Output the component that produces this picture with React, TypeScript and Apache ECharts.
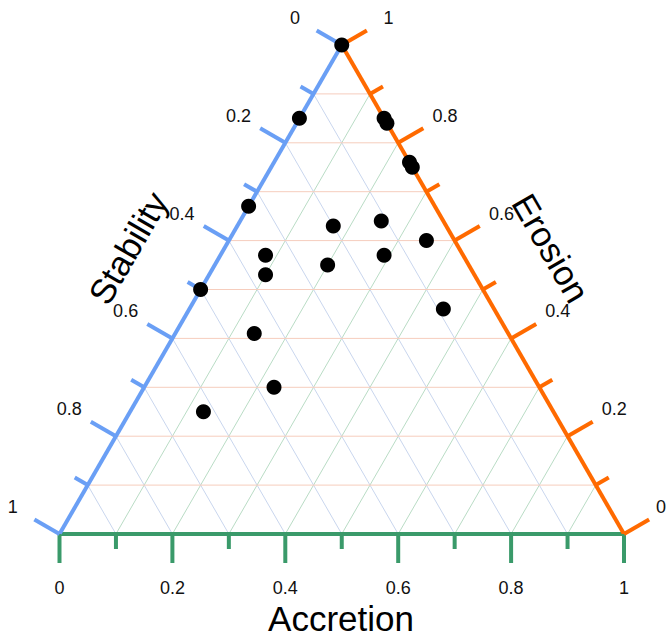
import React, { useEffect, useRef } from "react";
import * as echarts from "echarts";

const SQ = Math.sqrt(3) / 2;

// Data (each row sums to 1)
const accretion = [0, 0, 0.15, 0.16, 0.24, 0.25, 0, 0.17, 0.25, 0.35, 0.08, 0.29, 0.2, 0.1, 0, 0.45, 0.14, 0.23, 0.13];
const stability = [0, 0.15, 0, 0, 0, 0, 0.33, 0.2, 0.11, 0.05, 0.35, 0.14, 0.25, 0.37, 0.5, 0.09, 0.45, 0.47, 0.62];
const erosion = [1, 0.85, 0.85, 0.84, 0.76, 0.75, 0.67, 0.63, 0.64, 0.6, 0.57, 0.57, 0.55, 0.53, 0.5, 0.46, 0.41, 0.3, 0.25];

const tickValues = [0, 0.1, 0.2, 0.3, 0.4, 0.5, 0.6, 0.7, 0.8, 0.9, 1];
const majorTicks = [0, 0.2, 0.4, 0.6, 0.8, 1];
const majorLabels = ["0", "0.2", "0.4", "0.6", "0.8", "1"];

const FONT = '"Liberation Sans", Arial, Helvetica, sans-serif';

type AxisDef = {
  name: string;
  color: string;
  grid: string;
  edge: (t: number) => number[];
  gridEnd: (t: number) => number[];
  normal: number[];
};

const axes: AxisDef[] = [
  {
    name: "Accretion",
    color: "#3a9a6a",
    grid: "#b9dcc5",
    edge: (t) => [t, 0],
    gridEnd: (t) => [t + (1 - t) / 2, (1 - t) * SQ],
    normal: [0, 1],
  },
  {
    name: "Stability",
    color: "#6a9ff5",
    grid: "#c9d6ee",
    edge: (t) => [(1 - t) / 2, (1 - t) * SQ],
    gridEnd: (t) => [1 - t, 0],
    normal: [-SQ, -0.5],
  },
  {
    name: "Erosion",
    color: "#ff6a00",
    grid: "#f6cdbd",
    edge: (t) => [1 - t / 2, t * SQ],
    gridEnd: (t) => [t / 2, t * SQ],
    normal: [SQ, -0.5],
  },
];

function toXY(a: number, s: number, e: number) {
  const sum = a + s + e;
  const an = a / sum;
  const en = e / sum;
  return [an + en / 2, en * SQ];
}

function isMajor(t: number) {
  return majorTicks.some((m) => Math.abs(m - t) < 1e-6);
}

export default function App() {
  const ref = useRef<HTMLDivElement>(null);

  useEffect(() => {
    if (!ref.current) return;
    const chart = echarts.init(ref.current, undefined, { renderer: "svg" });

    const gridSeries = axes.map((ax) => ({
      type: "custom",
      coordinateSystem: "cartesian2d",
      clip: false,
      silent: true,
      z: 1,
      data: tickValues.filter((t) => t > 0 && t < 1).map((t) => [t, 0]),
      renderItem: (params: any, api: any) => {
        const t = api.value(0);
        const p1 = api.coord(ax.edge(t));
        const p2 = api.coord(ax.gridEnd(t));
        return {
          type: "line",
          shape: { x1: p1[0], y1: p1[1], x2: p2[0], y2: p2[1] },
          style: { stroke: ax.grid, lineWidth: 1 },
        };
      },
    }));

    const edgeSeries = axes.map((ax) => ({
      type: "line",
      silent: true,
      z: 2,
      symbol: "none",
      lineStyle: { color: ax.color, width: 4 },
      data: [ax.edge(0), ax.edge(1)],
    }));

    const tickSeries = axes.map((ax) => ({
      type: "custom",
      coordinateSystem: "cartesian2d",
      clip: false,
      silent: true,
      z: 3,
      data: tickValues.map((t) => [t, 0]),
      renderItem: (params: any, api: any) => {
        const t = api.value(0);
        const major = isMajor(t);
        const p = api.coord(ax.edge(t));
        const len = major ? 29 : 15;
        const n = ax.normal;
        const children: any[] = [
          {
            type: "line",
            shape: { x1: p[0], y1: p[1], x2: p[0] + n[0] * len, y2: p[1] + n[1] * len },
            style: { stroke: ax.color, lineWidth: 4 },
          },
        ];
        if (major) {
          const idx = majorTicks.findIndex((m) => Math.abs(m - t) < 1e-6);
          let lx = p[0] + n[0] * 54;
          const ly = p[1] + n[1] * 54;
          lx = Math.min(lx, 661);
          children.push({
            type: "text",
            x: lx,
            y: ly,
            style: {
              text: majorLabels[idx],
              fill: "#111",
              fontSize: 18,
              fontFamily: FONT,
              align: "center",
              verticalAlign: "middle",
              textAlign: "center",
              textVerticalAlign: "middle",
            },
          });
        }
        return { type: "group", children };
      },
    }));

    const points = accretion.map((a, i) => toXY(a, stability[i], erosion[i]));

    const titleStyle = (text: string) => ({
      text,
      fill: "#000",
      fontSize: 35,
      fontFamily: FONT,
      align: "center",
      verticalAlign: "middle",
      textAlign: "center",
      textVerticalAlign: "middle",
    });

    chart.setOption({
      animation: false,
      backgroundColor: "#fff",
      grid: { left: 59.5, top: 45, width: 564.5, height: 489 },
      xAxis: { type: "value", min: 0, max: 1, show: false },
      yAxis: { type: "value", min: 0, max: SQ, show: false },
      graphic: [
        { type: "text", x: 341, y: 618, style: titleStyle("Accretion") },
        { type: "text", x: 128, y: 248, rotation: Math.PI / 3, style: titleStyle("Stability") },
        { type: "text", x: 551, y: 248, rotation: -Math.PI / 3, style: titleStyle("Erosion") },
      ],
      series: [
        ...gridSeries,
        ...edgeSeries,
        ...tickSeries,
        {
          type: "scatter",
          z: 5,
          symbol: "circle",
          symbolSize: 15,
          itemStyle: { color: "#000", opacity: 1 },
          data: points,
        },
      ],
    } as any);

    return () => chart.dispose();
  }, []);

  return (
    <div
      ref={ref}
      style={{ position: "fixed", left: 0, top: 0, width: 669, height: 636 }}
    />
  );
}
